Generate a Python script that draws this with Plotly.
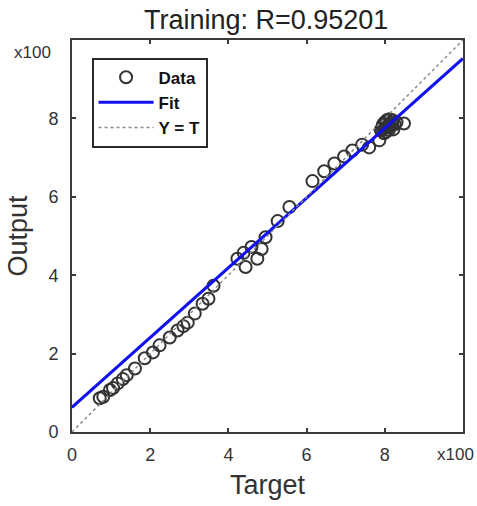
import plotly.graph_objects as go

# Regression of network output against target (values in units of 100)
target = [0.71, 0.80, 0.97, 1.05, 1.17, 1.30, 1.40, 1.61, 1.86, 2.07, 2.24, 2.50,
          2.70, 2.85, 2.96, 3.14, 3.34, 3.49, 3.62,
          4.23, 4.44, 4.39, 4.59, 4.74, 4.85, 4.95, 5.26, 5.56,
          6.15, 6.45, 6.71, 6.96, 7.17, 7.42, 7.60, 7.86,
          7.90, 7.95, 8.00, 8.05, 8.10, 8.15, 8.20, 8.25, 8.00, 8.10, 8.30, 7.98,
          8.12, 8.22, 8.49, 7.92, 8.03, 8.08, 8.17, 8.06, 7.96]
output = [0.86, 0.90, 1.07, 1.12, 1.24, 1.35, 1.45, 1.62, 1.88, 2.03, 2.21, 2.41,
          2.59, 2.70, 2.79, 3.02, 3.27, 3.40, 3.73,
          4.42, 4.21, 4.57, 4.72, 4.42, 4.67, 4.97, 5.38, 5.74,
          6.40, 6.65, 6.85, 7.03, 7.18, 7.33, 7.26, 7.44,
          7.70, 7.80, 7.75, 7.85, 7.90, 7.80, 7.95, 7.85, 7.90, 7.70, 7.90, 7.62,
          7.98, 7.72, 7.87, 7.74, 7.66, 7.82, 7.88, 7.96, 7.85]

fit_slope = 0.89
fit_intercept = 0.63
r_value = 0.95201

axis_range = [0, 10]
tick_vals = [0, 2, 4, 6, 8]
tick_text = ["0", "2", "4", "6", "8"]

fit_x = axis_range
fit_y = [fit_slope * t + fit_intercept for t in fit_x]

FONT = "Liberation Sans, Arial"
TEXT = "#333333"

fig = go.Figure()
fig.add_trace(go.Scatter(
    x=target, y=output, mode="markers", name="Data",
    legendgroup="a",
    marker=dict(symbol="circle-open", size=12, color="#333333",
                line=dict(width=2, color="#333333")),
))
fig.add_trace(go.Scatter(
    x=fit_x, y=fit_y, mode="lines", name="Fit", legendgroup="b",
    line=dict(color="#1010f0", width=3),
))
fig.add_trace(go.Scatter(
    x=axis_range, y=axis_range, mode="lines", name="Y = T", legendgroup="c",
    line=dict(color="#8a8a8a", width=1.5, dash="dot"),
))

axis_common = dict(
    range=axis_range, tickvals=tick_vals, ticktext=tick_text,
    showline=True, linecolor="#3c3c3c", linewidth=2, mirror="ticks",
    ticks="inside", ticklen=4, tickcolor="#3c3c3c", tickwidth=1.5,
    showgrid=False, zeroline=False,
    tickfont=dict(family=FONT, size=18, color=TEXT),
)

fig.update_layout(
    width=477, height=506,
    margin=dict(l=72, r=14, t=40, b=74),
    paper_bgcolor="white", plot_bgcolor="white",
    title=dict(text=f"Training: R={r_value}", x=0.558, xanchor="center",
               y=0.962, yanchor="middle",
               font=dict(family=FONT, size=27, color="#222222")),
    xaxis=dict(axis_common, ticklabelstandoff=5,
               title=dict(text="Target", standoff=12,
                          font=dict(family=FONT, size=27, color=TEXT))),
    yaxis=dict(axis_common, ticklabelstandoff=8,
               title=dict(text="Output", standoff=13,
                          font=dict(family=FONT, size=27, color=TEXT))),
    legend=dict(x=0.05, y=0.955, xanchor="left", yanchor="top",
                bordercolor="#2a2a2a", borderwidth=2, bgcolor="white",
                tracegroupgap=0, itemwidth=55,
                font=dict(family=FONT, size=17, color="#111111", weight="bold")),
    showlegend=True,
    annotations=[
        dict(text="x100", xref="paper", yref="paper", x=-0.153, y=0.968,
             xanchor="left", yanchor="middle", showarrow=False,
             font=dict(family=FONT, size=17, color=TEXT)),
        dict(text="x100", xref="paper", yref="paper", x=1.032, y=-0.058,
             xanchor="right", yanchor="middle", showarrow=False,
             font=dict(family=FONT, size=17, color=TEXT)),
    ],
)

fig.write_html("out.html")
